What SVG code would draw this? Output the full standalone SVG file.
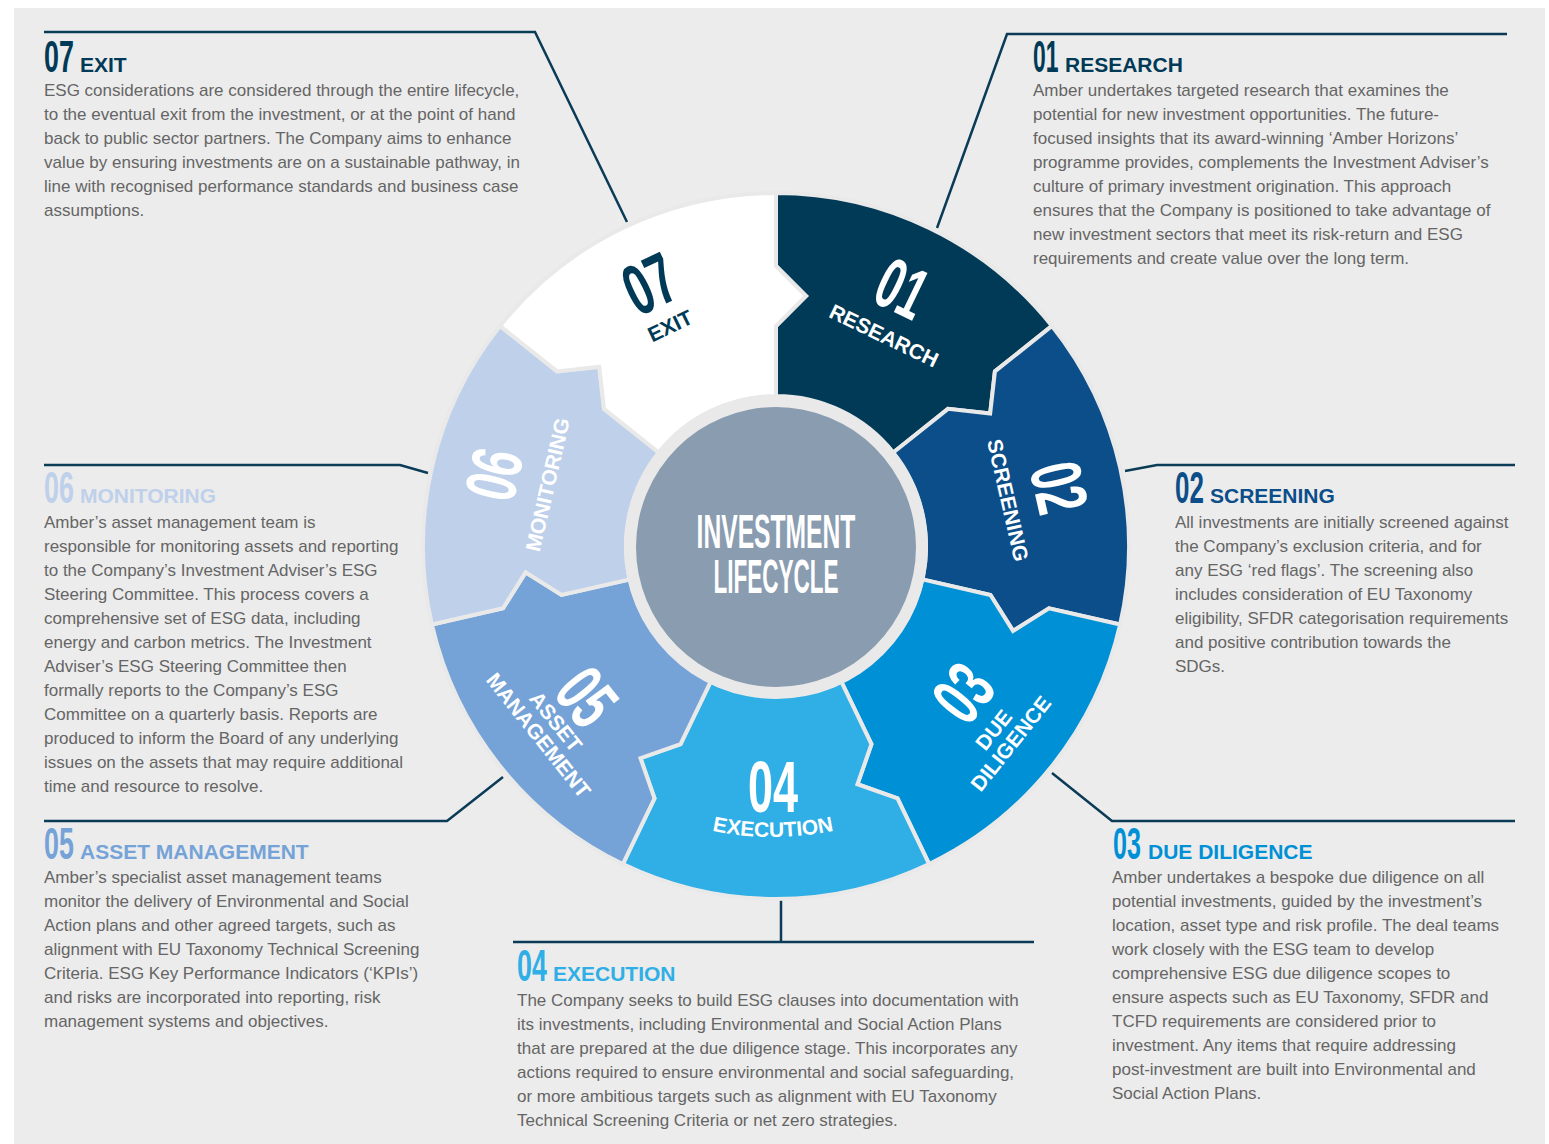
<svg xmlns="http://www.w3.org/2000/svg" width="1549" height="1144" viewBox="0 0 1549 1144">
  <style>
    .body { font-family: "Liberation Sans", Arial, sans-serif; font-size: 17px; fill: #656565; }
    .head { font-family: "Liberation Sans", Arial, sans-serif; font-size: 21px; font-weight: bold; }
    .num { font-family: "Liberation Sans", Arial, sans-serif; font-size: 44px; font-weight: bold; }
    .wnum { font-family: "Liberation Sans", Arial, sans-serif; font-size: 72px; font-weight: bold; text-anchor: middle; }
    .wlab { font-family: "Liberation Sans", Arial, sans-serif; font-size: 21px; font-weight: bold; text-anchor: middle; }
    .hub { font-family: "Liberation Sans", Arial, sans-serif; font-size: 49px; font-weight: bold; fill: #ffffff; text-anchor: middle; }
    .seg { stroke: #e9e9e9; stroke-width: 4; stroke-linejoin: miter; }
    .c-navy { fill: #003a56; }
    .c-02 { fill: #0c4e89; }
    .c-03 { fill: #0090d6; }
    .c-04 { fill: #2fafe5; }
    .c-05 { fill: #75a3d7; }
    .c-06 { fill: #bfd0eb; }
    .white { fill: #ffffff; }
  </style>
  <defs>
    <!-- arc of the wheel, centred under the hub, carrying the EXECUTION label -->
    <path id="arc-04" d="M 585.95 768.92 A 291 291 0 0 0 960.05 768.92"/>
  </defs>

  <!-- page background -->
  <rect x="0" y="0" width="1549" height="1144" fill="#ffffff"/>
  <rect x="14" y="8" width="1531" height="1136" fill="#ececec"/>

  <!-- leader lines from the wheel to each description -->
  <g id="connectors" fill="none" stroke="#0a3b57" stroke-width="2.5">
    <polyline points="44,32 535,32 627,222"/>
    <polyline points="1507,34 1007,34 937,228"/>
    <polyline points="44,465 400,465 428,473"/>
    <polyline points="1125,471 1157,465 1515,465"/>
    <polyline points="44,821 447,821 503,777"/>
    <polyline points="1052,773 1112,821 1515,821"/>
    <polyline points="781,900 781,942"/>
    <polyline points="513,942 1034,942"/>
  </g>

  <!-- 01 Research -->
  <g id="node-01">
    <path class="seg c-navy" d="M 776 193 A 353 353 0 0 1 1051.99 325.91 L 994.91 371.42 L 990.16 413.58 L 948.00 408.83 L 893.27 452.48 A 150 150 0 0 0 776 396 L 776 326 L 806 296 L 776 266 Z"/>
    <g transform="translate(776,546) rotate(25.71)">
      <g transform="translate(2,-262) scale(0.6,1)"><text class="wnum white" x="0" y="0">01</text></g>
      <text class="wlab white" x="6" y="-229">RESEARCH</text>
    </g>
    <g transform="translate(1033,72) scale(0.52,1)"><text class="num c-navy" x="0" y="0">01</text></g>
    <text class="head c-navy" x="1065" y="72">RESEARCH</text>
    <text class="body" x="1033" y="96">
      <tspan x="1033" y="96">Amber undertakes targeted research that examines the</tspan>
      <tspan x="1033" y="120">potential for new investment opportunities. The future-</tspan>
      <tspan x="1033" y="144">focused insights that its award-winning ‘Amber Horizons’</tspan>
      <tspan x="1033" y="168">programme provides, complements the Investment Adviser’s</tspan>
      <tspan x="1033" y="192">culture of primary investment origination. This approach</tspan>
      <tspan x="1033" y="216">ensures that the Company is positioned to take advantage of</tspan>
      <tspan x="1033" y="240">new investment sectors that meet its risk-return and ESG</tspan>
      <tspan x="1033" y="264">requirements and create value over the long term.</tspan>
    </text>
  </g>

  <!-- 02 Screening -->
  <g id="node-02">
    <path class="seg c-02" d="M 1051.99 325.91 A 353 353 0 0 1 1120.15 624.55 L 1048.98 608.31 L 1013.05 630.88 L 990.48 594.95 L 922.24 579.38 A 150 150 0 0 0 893.27 452.48 L 948.00 408.83 L 990.16 413.58 L 994.91 371.42 Z"/>
    <g transform="translate(776,546) rotate(77.14)">
      <g transform="translate(6,-264) scale(0.625,1)"><text class="wnum white" x="0" y="0">02</text></g>
      <text class="wlab white" x="7" y="-229">SCREENING</text>
    </g>
    <g transform="translate(1175,503) scale(0.59,1)"><text class="num c-02" x="0" y="0">02</text></g>
    <text class="head c-02" x="1210" y="503">SCREENING</text>
    <text class="body" x="1175" y="528">
      <tspan x="1175" y="528">All investments are initially screened against</tspan>
      <tspan x="1175" y="552">the Company’s exclusion criteria, and for</tspan>
      <tspan x="1175" y="576">any ESG ‘red flags’. The screening also</tspan>
      <tspan x="1175" y="600">includes consideration of EU Taxonomy</tspan>
      <tspan x="1175" y="624">eligibility, SFDR categorisation requirements</tspan>
      <tspan x="1175" y="648">and positive contribution towards the</tspan>
      <tspan x="1175" y="672">SDGs.</tspan>
    </text>
  </g>

  <!-- 03 Due diligence -->
  <g id="node-03">
    <path class="seg c-03" d="M 1120.15 624.55 A 353 353 0 0 1 929.16 864.04 L 897.49 798.27 L 857.44 784.26 L 871.45 744.21 L 841.08 681.15 A 150 150 0 0 0 922.24 579.38 L 990.48 594.95 L 1013.05 630.88 L 1048.98 608.31 Z"/>
    <g transform="translate(776,546) rotate(-51.43)">
      <g transform="translate(2,263) scale(0.625,1)"><text class="wnum white" x="0" y="0">03</text></g>
      <text class="wlab white" x="-8" y="292">DUE</text>
      <text class="wlab white" x="-8" y="314">DILIGENCE</text>
    </g>
    <g transform="translate(1113,859) scale(0.57,1)"><text class="num c-03" x="0" y="0">03</text></g>
    <text class="head c-03" x="1148" y="859">DUE DILIGENCE</text>
    <text class="body" x="1112" y="883">
      <tspan x="1112" y="883">Amber undertakes a bespoke due diligence on all</tspan>
      <tspan x="1112" y="907">potential investments, guided by the investment’s</tspan>
      <tspan x="1112" y="931">location, asset type and risk profile. The deal teams</tspan>
      <tspan x="1112" y="955">work closely with the ESG team to develop</tspan>
      <tspan x="1112" y="979">comprehensive ESG due diligence scopes to</tspan>
      <tspan x="1112" y="1003">ensure aspects such as EU Taxonomy, SFDR and</tspan>
      <tspan x="1112" y="1027">TCFD requirements are considered prior to</tspan>
      <tspan x="1112" y="1051">investment. Any items that require addressing</tspan>
      <tspan x="1112" y="1075">post-investment are built into Environmental and</tspan>
      <tspan x="1112" y="1099">Social Action Plans.</tspan>
    </text>
  </g>

  <!-- 04 Execution -->
  <g id="node-04">
    <path class="seg c-04" d="M 929.16 864.04 A 353 353 0 0 1 622.84 864.04 L 654.51 798.27 L 640.50 758.22 L 680.55 744.21 L 710.92 681.15 A 150 150 0 0 0 841.08 681.15 L 871.45 744.21 L 857.44 784.26 L 897.49 798.27 Z"/>
    <g transform="translate(773,812) scale(0.625,1)"><text class="wnum white" x="0" y="0">04</text></g>
    <text class="wlab white"><textPath href="#arc-04" startOffset="50%">EXECUTION</textPath></text>
    <g transform="translate(517,981) scale(0.61,1)"><text class="num c-04" x="0" y="0">04</text></g>
    <text class="head c-04" x="553" y="981">EXECUTION</text>
    <text class="body" x="517" y="1006">
      <tspan x="517" y="1006">The Company seeks to build ESG clauses into documentation with</tspan>
      <tspan x="517" y="1030">its investments, including Environmental and Social Action Plans</tspan>
      <tspan x="517" y="1054">that are prepared at the due diligence stage. This incorporates any</tspan>
      <tspan x="517" y="1078">actions required to ensure environmental and social safeguarding,</tspan>
      <tspan x="517" y="1102">or more ambitious targets such as alignment with EU Taxonomy</tspan>
      <tspan x="517" y="1126">Technical Screening Criteria or net zero strategies.</tspan>
    </text>
  </g>

  <!-- 05 Asset management -->
  <g id="node-05">
    <path class="seg c-05" d="M 622.84 864.04 A 353 353 0 0 1 431.85 624.55 L 503.02 608.31 L 525.59 572.38 L 561.52 594.95 L 629.76 579.38 A 150 150 0 0 0 710.92 681.15 L 680.55 744.21 L 640.50 758.22 L 654.51 798.27 Z"/>
    <g transform="translate(776,546) rotate(51.43)">
      <g transform="translate(0,267) scale(0.625,1)"><text class="wnum white" x="0" y="0">05</text></g>
      <text class="wlab white" x="0" y="289">ASSET</text>
      <text class="wlab white" x="0" y="311">MANAGEMENT</text>
    </g>
    <g transform="translate(44,859) scale(0.61,1)"><text class="num c-05" x="0" y="0">05</text></g>
    <text class="head c-05" x="80" y="859">ASSET MANAGEMENT</text>
    <text class="body" x="44" y="883">
      <tspan x="44" y="883">Amber’s specialist asset management teams</tspan>
      <tspan x="44" y="907">monitor the delivery of Environmental and Social</tspan>
      <tspan x="44" y="931">Action plans and other agreed targets, such as</tspan>
      <tspan x="44" y="955">alignment with EU Taxonomy Technical Screening</tspan>
      <tspan x="44" y="979">Criteria. ESG Key Performance Indicators (‘KPIs’)</tspan>
      <tspan x="44" y="1003">and risks are incorporated into reporting, risk</tspan>
      <tspan x="44" y="1027">management systems and objectives.</tspan>
    </text>
  </g>

  <!-- 06 Monitoring -->
  <g id="node-06">
    <path class="seg c-06" d="M 431.85 624.55 A 353 353 0 0 1 500.01 325.91 L 557.09 371.42 L 599.24 366.68 L 604.00 408.83 L 658.73 452.48 A 150 150 0 0 0 629.76 579.38 L 561.52 594.95 L 525.59 572.38 L 503.02 608.31 Z"/>
    <g transform="translate(776,546) rotate(-77.14)">
      <g transform="translate(7,-266) scale(0.625,1)"><text class="wnum white" x="0" y="0">06</text></g>
      <text class="wlab white" x="9" y="-229">MONITORING</text>
    </g>
    <g transform="translate(44,503) scale(0.61,1)"><text class="num c-06" x="0" y="0">06</text></g>
    <text class="head c-06" x="80" y="503">MONITORING</text>
    <text class="body" x="44" y="528">
      <tspan x="44" y="528">Amber’s asset management team is</tspan>
      <tspan x="44" y="552">responsible for monitoring assets and reporting</tspan>
      <tspan x="44" y="576">to the Company’s Investment Adviser’s ESG</tspan>
      <tspan x="44" y="600">Steering Committee. This process covers a</tspan>
      <tspan x="44" y="624">comprehensive set of ESG data, including</tspan>
      <tspan x="44" y="648">energy and carbon metrics. The Investment</tspan>
      <tspan x="44" y="672">Adviser’s ESG Steering Committee then</tspan>
      <tspan x="44" y="696">formally reports to the Company’s ESG</tspan>
      <tspan x="44" y="720">Committee on a quarterly basis. Reports are</tspan>
      <tspan x="44" y="744">produced to inform the Board of any underlying</tspan>
      <tspan x="44" y="768">issues on the assets that may require additional</tspan>
      <tspan x="44" y="792">time and resource to resolve.</tspan>
    </text>
  </g>

  <!-- 07 Exit -->
  <g id="node-07">
    <path class="seg white" d="M 500.01 325.91 A 353 353 0 0 1 776 193 L 776 266 L 806 296 L 776 326 L 776 396 A 150 150 0 0 0 658.73 452.48 L 604.00 408.83 L 599.24 366.68 L 557.09 371.42 Z"/>
    <g transform="translate(776,546) rotate(-25.71)">
      <g transform="translate(0,-266) scale(0.625,1)"><text class="wnum c-navy" x="0" y="0">07</text></g>
      <text class="wlab c-navy" x="0" y="-237">EXIT</text>
    </g>
    <g transform="translate(44,72) scale(0.61,1)"><text class="num c-navy" x="0" y="0">07</text></g>
    <text class="head c-navy" x="80" y="72">EXIT</text>
    <text class="body" x="44" y="96">
      <tspan x="44" y="96">ESG considerations are considered through the entire lifecycle,</tspan>
      <tspan x="44" y="120">to the eventual exit from the investment, or at the point of hand</tspan>
      <tspan x="44" y="144">back to public sector partners. The Company aims to enhance</tspan>
      <tspan x="44" y="168">value by ensuring investments are on a sustainable pathway, in</tspan>
      <tspan x="44" y="192">line with recognised performance standards and business case</tspan>
      <tspan x="44" y="216">assumptions.</tspan>
    </text>
  </g>

  <!-- hub -->
  <g id="node-hub">
    <circle cx="776" cy="547" r="152" fill="#e9e9e9"/>
    <circle cx="776" cy="547" r="140" fill="#8a9cb0"/>
    <g transform="translate(776,548) scale(0.503,1)"><text class="hub" x="0" y="0">INVESTMENT</text></g>
    <g transform="translate(776,593) scale(0.46,1)"><text class="hub" x="0" y="0">LIFECYCLE</text></g>
  </g>
</svg>
